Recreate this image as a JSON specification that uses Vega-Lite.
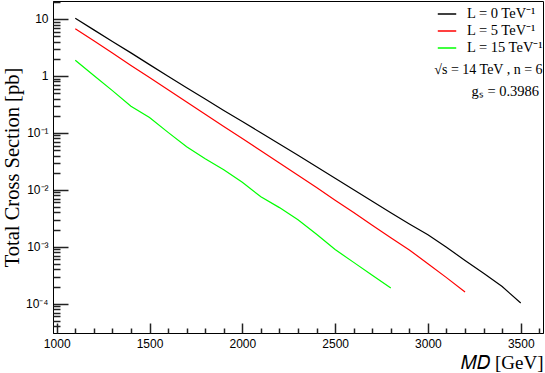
{
  "$schema": "https://vega.github.io/schema/vega-lite/v6.json",
  "width": 490,
  "height": 332,
  "autosize": {"type": "none"},
  "padding": {"left": 53, "top": 1, "right": 2, "bottom": 40},
  "background": "white",
  "config": {
    "view": {"stroke": "black", "strokeWidth": 1},
    "axis": {"grid": false, "domainColor": "black", "labelColor": "black", "titleColor": "black", "labelFont": "Liberation Sans", "labelFontSize": 12, "titleFontWeight": "normal"}
  },
  "resolve": {"axis": {"x": "independent", "y": "independent"}},
  "data": {"values": [
    {"M": 1100, "xs": 10.3, "L": "L = 0 TeV⁻¹"},
    {"M": 1200, "xs": 6.44, "L": "L = 0 TeV⁻¹"},
    {"M": 1300, "xs": 4.03, "L": "L = 0 TeV⁻¹"},
    {"M": 1400, "xs": 2.54, "L": "L = 0 TeV⁻¹"},
    {"M": 1500, "xs": 1.58, "L": "L = 0 TeV⁻¹"},
    {"M": 1600, "xs": 0.99, "L": "L = 0 TeV⁻¹"},
    {"M": 1700, "xs": 0.621, "L": "L = 0 TeV⁻¹"},
    {"M": 1800, "xs": 0.394, "L": "L = 0 TeV⁻¹"},
    {"M": 1900, "xs": 0.248, "L": "L = 0 TeV⁻¹"},
    {"M": 2000, "xs": 0.158, "L": "L = 0 TeV⁻¹"},
    {"M": 2100, "xs": 0.1005, "L": "L = 0 TeV⁻¹"},
    {"M": 2200, "xs": 0.0638, "L": "L = 0 TeV⁻¹"},
    {"M": 2300, "xs": 0.0405, "L": "L = 0 TeV⁻¹"},
    {"M": 2400, "xs": 0.0254, "L": "L = 0 TeV⁻¹"},
    {"M": 2500, "xs": 0.01596, "L": "L = 0 TeV⁻¹"},
    {"M": 2600, "xs": 0.01004, "L": "L = 0 TeV⁻¹"},
    {"M": 2700, "xs": 0.00629, "L": "L = 0 TeV⁻¹"},
    {"M": 2800, "xs": 0.00394, "L": "L = 0 TeV⁻¹"},
    {"M": 2900, "xs": 0.00251, "L": "L = 0 TeV⁻¹"},
    {"M": 3000, "xs": 0.00162, "L": "L = 0 TeV⁻¹"},
    {"M": 3100, "xs": 0.00098, "L": "L = 0 TeV⁻¹"},
    {"M": 3200, "xs": 0.000575, "L": "L = 0 TeV⁻¹"},
    {"M": 3300, "xs": 0.000343, "L": "L = 0 TeV⁻¹"},
    {"M": 3400, "xs": 0.0002, "L": "L = 0 TeV⁻¹"},
    {"M": 3500, "xs": 0.000103, "L": "L = 0 TeV⁻¹"},
    {"M": 1100, "xs": 6.76, "L": "L = 5 TeV⁻¹"},
    {"M": 1200, "xs": 4.13, "L": "L = 5 TeV⁻¹"},
    {"M": 1300, "xs": 2.52, "L": "L = 5 TeV⁻¹"},
    {"M": 1400, "xs": 1.53, "L": "L = 5 TeV⁻¹"},
    {"M": 1500, "xs": 0.938, "L": "L = 5 TeV⁻¹"},
    {"M": 1600, "xs": 0.573, "L": "L = 5 TeV⁻¹"},
    {"M": 1700, "xs": 0.35, "L": "L = 5 TeV⁻¹"},
    {"M": 1800, "xs": 0.213, "L": "L = 5 TeV⁻¹"},
    {"M": 1900, "xs": 0.13, "L": "L = 5 TeV⁻¹"},
    {"M": 2000, "xs": 0.0794, "L": "L = 5 TeV⁻¹"},
    {"M": 2100, "xs": 0.0485, "L": "L = 5 TeV⁻¹"},
    {"M": 2200, "xs": 0.0295, "L": "L = 5 TeV⁻¹"},
    {"M": 2300, "xs": 0.018, "L": "L = 5 TeV⁻¹"},
    {"M": 2400, "xs": 0.01094, "L": "L = 5 TeV⁻¹"},
    {"M": 2500, "xs": 0.00659, "L": "L = 5 TeV⁻¹"},
    {"M": 2600, "xs": 0.00398, "L": "L = 5 TeV⁻¹"},
    {"M": 2700, "xs": 0.00239, "L": "L = 5 TeV⁻¹"},
    {"M": 2800, "xs": 0.00144, "L": "L = 5 TeV⁻¹"},
    {"M": 2900, "xs": 0.000879, "L": "L = 5 TeV⁻¹"},
    {"M": 3000, "xs": 0.000504, "L": "L = 5 TeV⁻¹"},
    {"M": 3100, "xs": 0.000287, "L": "L = 5 TeV⁻¹"},
    {"M": 3200, "xs": 0.00016, "L": "L = 5 TeV⁻¹"},
    {"M": 1100, "xs": 1.886, "L": "L = 15 TeV⁻¹"},
    {"M": 1200, "xs": 1.02, "L": "L = 15 TeV⁻¹"},
    {"M": 1300, "xs": 0.552, "L": "L = 15 TeV⁻¹"},
    {"M": 1400, "xs": 0.294, "L": "L = 15 TeV⁻¹"},
    {"M": 1500, "xs": 0.186, "L": "L = 15 TeV⁻¹"},
    {"M": 1600, "xs": 0.102, "L": "L = 15 TeV⁻¹"},
    {"M": 1700, "xs": 0.0571, "L": "L = 15 TeV⁻¹"},
    {"M": 1800, "xs": 0.035, "L": "L = 15 TeV⁻¹"},
    {"M": 1900, "xs": 0.02244, "L": "L = 15 TeV⁻¹"},
    {"M": 2000, "xs": 0.01355, "L": "L = 15 TeV⁻¹"},
    {"M": 2100, "xs": 0.00754, "L": "L = 15 TeV⁻¹"},
    {"M": 2200, "xs": 0.00487, "L": "L = 15 TeV⁻¹"},
    {"M": 2300, "xs": 0.00298, "L": "L = 15 TeV⁻¹"},
    {"M": 2400, "xs": 0.001656, "L": "L = 15 TeV⁻¹"},
    {"M": 2500, "xs": 0.000893, "L": "L = 15 TeV⁻¹"},
    {"M": 2600, "xs": 0.000532, "L": "L = 15 TeV⁻¹"},
    {"M": 2700, "xs": 0.000315, "L": "L = 15 TeV⁻¹"},
    {"M": 2800, "xs": 0.000188, "L": "L = 15 TeV⁻¹"}
  ]},
  "layer": [
    {
      "mark": {"type": "line", "strokeWidth": 1.2, "clip": true},
      "encoding": {
        "x": {
          "field": "M", "type": "quantitative",
          "scale": {"domain": [980, 3620], "nice": false, "zero": false},
          "axis": {
            "orient": "bottom",
            "title": "𝑀𝐷 [GeV]",
            "titleFont": "Liberation Serif", "titleFontSize": 19, "titleAnchor": "end", "titlePadding": 4,
            "values": [1000, 1500, 2000, 2500, 3000, 3500],
            "format": "d",
            "ticks": false,
            "labelPadding": 5,
            "labelFlush": false,
            "labelOverlap": false
          }
        },
        "y": {
          "field": "xs", "type": "quantitative",
          "scale": {"type": "log", "domain": [3.06e-5, 20.7], "nice": false},
          "axis": {
            "orient": "left",
            "title": "Total Cross Section [pb]",
            "titleFont": "Liberation Serif", "titleFontSize": 20.5, "titlePadding": 3,
            "values": [1e-4, 1e-3, 1e-2, 0.1, 1, 10],
            "labelExpr": "round(log(datum.value)/LN10) == 1 ? '10' : round(log(datum.value)/LN10) == 0 ? '1' : round(log(datum.value)/LN10) == -1 ? '10⁻¹' : round(log(datum.value)/LN10) == -2 ? '10⁻²' : round(log(datum.value)/LN10) == -3 ? '10⁻³' : '10⁻⁴'",
            "ticks": true,
            "tickSize": -15,
            "tickWidth": 1.5,
            "tickColor": "#222222",
            "labelPadding": 20,
            "labelOverlap": false,
            "labelFlush": false
          }
        },
        "color": {
          "field": "L", "type": "nominal",
          "scale": {"domain": ["L = 0 TeV⁻¹", "L = 5 TeV⁻¹", "L = 15 TeV⁻¹"], "range": ["#000000", "#ff0000", "#00ff00"]},
          "legend": {
            "title": null, "orient": "none", "legendX": 384, "legendY": 3,
            "symbolType": "stroke", "symbolSize": 340, "symbolStrokeWidth": 1.5,
            "labelFont": "Liberation Serif", "labelFontSize": 14.5, "labelColor": "black",
            "rowPadding": -2, "padding": 0, "labelOffset": 10
          }
        }
      }
    },
    {
      "mark": {"type": "line", "opacity": 0},
      "encoding": {
        "x": {"field": "M", "type": "quantitative", "axis": {"orient": "top", "offset": -332, "title": null, "labels": false, "domain": false, "ticks": true, "tickSize": 10, "tickWidth": 1.5, "tickColor": "#222222", "values": [1000, 1500, 2000, 2500, 3000, 3500]}},
        "y": {"field": "xs", "type": "quantitative", "axis": {"orient": "right", "offset": -490, "title": null, "labels": false, "domain": false, "ticks": true, "tickSize": 7, "tickWidth": 1.5, "tickColor": "#222222", "values": [4e-5, 5e-5, 6e-5, 7e-5, 8e-5, 9e-5, 2e-4, 3e-4, 4e-4, 5e-4, 6e-4, 7e-4, 8e-4, 9e-4, 2e-3, 3e-3, 4e-3, 5e-3, 6e-3, 7e-3, 8e-3, 9e-3, 2e-2, 3e-2, 4e-2, 5e-2, 6e-2, 7e-2, 8e-2, 9e-2, 0.2, 0.3, 0.4, 0.5, 0.6, 0.7, 0.8, 0.9, 2, 3, 4, 5, 6, 7, 8, 9, 20]}},
        "detail": {"field": "L"}
      }
    },
    {
      "mark": {"type": "line", "opacity": 0},
      "encoding": {
        "x": {"field": "M", "type": "quantitative", "axis": {"orient": "top", "offset": -332, "title": null, "labels": false, "domain": false, "ticks": true, "tickSize": 5, "tickWidth": 1.5, "tickColor": "#222222", "values": [1100, 1200, 1300, 1400, 1600, 1700, 1800, 1900, 2100, 2200, 2300, 2400, 2600, 2700, 2800, 2900, 3100, 3200, 3300, 3400, 3600]}},
        "y": {"field": "xs", "type": "quantitative", "axis": null},
        "detail": {"field": "L"}
      }
    },
    {
      "data": {"values": [{"t": "√s = 14 TeV , n = 6"}]},
      "mark": {"type": "text", "align": "right", "baseline": "middle", "font": "Liberation Serif", "fontSize": 14, "color": "black"},
      "encoding": {
        "x": {"datum": 3618, "type": "quantitative", "axis": null},
        "y": {"datum": 1.27, "type": "quantitative", "axis": null},
        "text": {"field": "t"}
      }
    },
    {
      "data": {"values": [{"t": "gₛ = 0.3986"}]},
      "mark": {"type": "text", "align": "right", "baseline": "middle", "font": "Liberation Serif", "fontSize": 14.5, "color": "black"},
      "encoding": {
        "x": {"datum": 3599, "type": "quantitative", "axis": null},
        "y": {"datum": 0.524, "type": "quantitative", "axis": null},
        "text": {"field": "t"}
      }
    }
  ]
}
